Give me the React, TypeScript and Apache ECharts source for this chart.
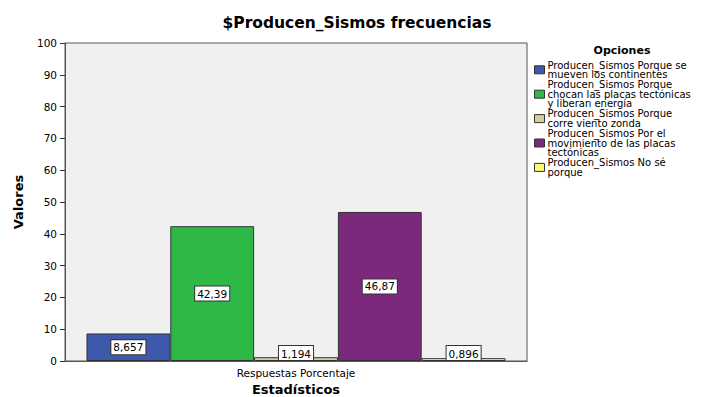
import React, { useEffect, useRef } from "react";
import * as echarts from "echarts";

const categories = ["Respuestas Porcentaje"];
const seriesNames = [
  "Producen_Sismos Porque se\nmueven los continentes",
  "Producen_Sismos Porque\nchocan las placas tectónicas\ny liberan energía",
  "Producen_Sismos Porque\ncorre viento zonda",
  "Producen_Sismos Por el\nmovimiento de las placas\ntectónicas",
  "Producen_Sismos No sé\nporque",
];
const seriesValues = [8.657, 42.39, 1.194, 46.87, 0.896];
const seriesColors = ["#3E58AC", "#2EB848", "#D3CE97", "#7C287D", "#FBF873"];
const yTicks = { min: 0, max: 100, interval: 10 };

const FONT = "DejaVu Sans, Verdana, sans-serif";

export default function App() {
  const ref = useRef<HTMLDivElement>(null);
  useEffect(() => {
    if (!ref.current) return;
    const chart = echarts.init(ref.current, undefined, { renderer: "svg" });
    const series = seriesNames.map((name, i) => ({
      name,
      type: "bar",
      barGap: "0%",
      barCategoryGap: "9.3%",
      itemStyle: { color: seriesColors[i], borderColor: "#333", borderWidth: 1 },
      label: {
        show: true,
        position: seriesValues[i] < 5 ? "insideBottom" : "inside",
        distance: 1,
        formatter: (p: any) => String(p.value).replace(".", ","),
        backgroundColor: "#fff",
        borderColor: "#333",
        borderWidth: 1,
        padding: [2, 2, 1, 2],
        color: "#000",
        fontFamily: FONT,
        fontSize: 10.5,
      },
      data: [seriesValues[i]],
    }));
    chart.setOption({
      animation: false,
      textStyle: { fontFamily: FONT },
      title: [
        {
          text: "$Producen_Sismos frecuencias",
          left: 352,
          textAlign: "center",
          top: 10,
          textStyle: { fontSize: 15.5, fontWeight: "bold", color: "#000", fontFamily: FONT },
        },
        {
          text: "Opciones",
          left: 617,
          textAlign: "center",
          top: 40,
          textStyle: { fontSize: 11, fontWeight: "bold", color: "#000", fontFamily: FONT },
        },
      ],
      legend: {
        orient: "vertical",
        left: 529,
        top: 55,
        itemWidth: 10,
        itemHeight: 8,
        itemGap: 0,
        icon: "rect",
        data: seriesNames.map((n) => ({ name: n, itemStyle: { borderColor: "#333", borderWidth: 1 } })),
        textStyle: { fontSize: 10, lineHeight: 9.6, color: "#000", fontFamily: FONT, padding: [0, 0, 0, -2] },
        selectedMode: false,
      },
      grid: {
        left: 65,
        right: 176,
        top: 43,
        bottom: 36,
        outerBoundsMode: "none",
        containLabel: false,
        show: true,
        backgroundColor: "#F0F0F0",
        borderColor: "#555",
        borderWidth: 1,
      },
      xAxis: {
        type: "category",
        data: categories,
        name: "Estadísticos",
        nameLocation: "middle",
        nameGap: 22,
        nameTextStyle: { fontSize: 13, fontWeight: "bold", color: "#000", fontFamily: FONT },
        axisLine: { lineStyle: { color: "#555" } },
        axisTick: { alignWithLabel: true, length: 5, lineStyle: { color: "#333" } },
        axisLabel: { fontSize: 10.5, color: "#000", margin: 6, fontFamily: FONT },
      },
      yAxis: {
        type: "value",
        min: yTicks.min,
        max: yTicks.max,
        interval: yTicks.interval,
        name: "Valores",
        nameLocation: "middle",
        nameGap: 40,
        nameTextStyle: { fontSize: 13, fontWeight: "bold", color: "#000", fontFamily: FONT },
        splitLine: { show: false },
        axisLine: { show: true, lineStyle: { color: "#555" } },
        axisTick: { show: true, length: 5, lineStyle: { color: "#333" } },
        axisLabel: { fontSize: 10.5, color: "#000", margin: 8, fontFamily: FONT },
      },
      series,
    });
    return () => chart.dispose();
  }, []);
  return <div ref={ref} style={{ width: 703, height: 397, position: "absolute", left: 0, top: 0 }} />;
}
